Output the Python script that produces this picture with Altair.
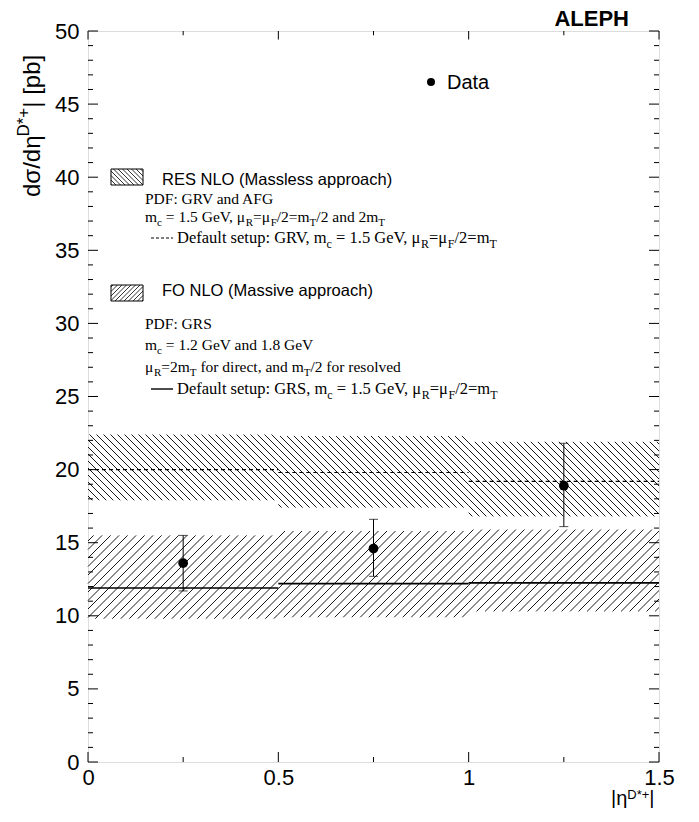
import altair as alt
import numpy as np
import pandas as pd

# ---------------- data ----------------
bin_lo = [0.0, 0.5, 1.0]
bin_hi = [0.5, 1.0, 1.5]
res_lo = [17.9, 17.4, 16.8]
res_hi = [22.4, 22.3, 21.9]
res_def = [20.0, 19.8, 19.2]
fo_lo = [9.8, 9.9, 10.3]
fo_hi = [15.5, 15.8, 15.9]
fo_def = [11.9, 12.2, 12.25]
data_x = [0.25, 0.75, 1.25]
data_y = [13.6, 14.6, 18.9]
data_lo = [11.7, 12.7, 16.1]
data_hi = [15.5, 16.6, 21.8]
x_labels = [0, 0.5, 1, 1.5]
x_minor = [0.25, 0.75, 1.25]
y_labels = [0, 5, 10, 15, 20, 25, 30, 35, 40, 45, 50]
y_minor = [v for v in range(1, 50) if v % 5]

# ---------------- geometry ----------------
W, H = 571, 731
PADL, PADT = 80, 23
OX, OY = 8 + PADL, 8 + PADT          # page position of the plot origin
XD, YD = [0, 1.5], [0, 50]
SX, SY = W / (XD[1] - XD[0]), H / (YD[1] - YD[0])
SANS = "Liberation Sans"
SERIF = "Liberation Serif"


def X(field, axis=None):
    return alt.X(field, type="quantitative", scale=alt.Scale(domain=XD, nice=False, zero=False), axis=axis)


def Y(field, axis=None):
    return alt.Y(field, type="quantitative", scale=alt.Scale(domain=YD, nice=False, zero=False), axis=axis)


def hatch(x0, x1, y0, y1, d, slash, sx, sy):
    """hatch segments for a rectangle, in data units (y up)."""
    u0, u1, w0, w1 = x0 * sx, x1 * sx, y0 * sy, y1 * sy
    segs = []
    if slash:  # w = u + c
        for k in range(int(np.ceil((w0 - u1) / d)), int(np.floor((w1 - u0) / d)) + 1):
            c = k * d
            lo, hi = max(u0, w0 - c), min(u1, w1 - c)
            if hi - lo > 0.4:
                segs.append((lo / sx, (lo + c) / sy, hi / sx, (hi + c) / sy))
    else:  # w = -u + c
        for k in range(int(np.ceil((w0 + u0) / d)), int(np.floor((w1 + u1) / d)) + 1):
            c = k * d
            lo, hi = max(u0, c - w1), min(u1, c - w0)
            if hi - lo > 0.4:
                segs.append((lo / sx, (c - lo) / sy, hi / sx, (c - hi) / sy))
    return segs


band_segs = []
for i in range(3):
    band_segs += hatch(bin_lo[i], bin_hi[i], res_lo[i], res_hi[i], 7.0, False, SX, SY)
    band_segs += hatch(bin_lo[i], bin_hi[i], fo_lo[i], fo_hi[i], 8.5, True, SX, SY)
hatch_df = pd.DataFrame(band_segs, columns=["x", "y", "x2", "y2"])

hatch_layer = alt.Chart(hatch_df).mark_rule(color="black", strokeWidth=0.9).encode(
    x=X("x"), y=Y("y"), x2="x2", y2="y2")

bins_df = pd.DataFrame({"lo": bin_lo, "hi": bin_hi, "res": res_def, "fo": fo_def})
res_line = alt.Chart(bins_df).mark_rule(color="black", strokeWidth=1.2, strokeDash=[4, 3]).encode(
    x=X("lo"), x2="hi", y=Y("res"))
fo_line = alt.Chart(bins_df).mark_rule(color="black", strokeWidth=1.6).encode(
    x=X("lo"), x2="hi", y=Y("fo"))

pts_df = pd.DataFrame({"x": data_x, "y": data_y, "lo": data_lo, "hi": data_hi})
err = alt.Chart(pts_df).mark_rule(color="black", strokeWidth=1).encode(x=X("x"), y=Y("lo"), y2="hi")
cap_lo = alt.Chart(pts_df).mark_tick(color="black", orient="horizontal", size=9, thickness=1).encode(
    x=X("x"), y=Y("lo"))
cap_hi = alt.Chart(pts_df).mark_tick(color="black", orient="horizontal", size=9, thickness=1).encode(
    x=X("x"), y=Y("hi"))
pts = alt.Chart(pts_df).mark_circle(color="black", size=95, opacity=1).encode(x=X("x"), y=Y("y"))

# ---------------- axes & inside ticks ----------------
yt = pd.DataFrame({"v": y_labels + y_minor, "L": [10] * len(y_labels) + [5] * len(y_minor)})
xt = pd.DataFrame({"v": x_labels + x_minor, "L": [10] * len(x_labels) + [5] * len(x_minor)})

ax_y = alt.Axis(values=y_labels, ticks=False, domain=False, grid=False, labelFontSize=22, labelFont=SANS,
                labelColor="black", labelPadding=9, labelFlush=False, labelOverlap=False, title=None, format="~g")
ax_x = alt.Axis(values=x_labels, ticks=False, domain=False, grid=False, labelFontSize=22, labelFont=SANS,
                labelColor="black", labelPadding=5, labelFlush=False, labelOverlap=False, title=None, format="~g")

yt_left = alt.Chart(yt).transform_calculate(x0="0", x1="datum.L / %f" % SX).mark_rule(
    color="black", strokeWidth=1).encode(y=Y("v", ax_y), x=X("x0:Q"), x2="x1:Q")
yt_right = alt.Chart(yt).transform_calculate(x0="1.5", x1="1.5 - datum.L / %f" % SX).mark_rule(
    color="black", strokeWidth=1).encode(y=Y("v"), x=X("x0:Q"), x2="x1:Q")
xt_bot = alt.Chart(xt).transform_calculate(y0="0", y1="datum.L / %f" % SY).mark_rule(
    color="black", strokeWidth=1).encode(x=X("v", ax_x), y=Y("y0:Q"), y2="y1:Q")
xt_top = alt.Chart(xt).transform_calculate(y0="50", y1="50 - datum.L * 0.85 / %f" % SY).mark_rule(
    color="black", strokeWidth=1).encode(x=X("v"), y=Y("y0:Q"), y2="y1:Q")

# ---------------- text helpers ----------------
TIMES = {" ": 250, ",": 250, ".": 250, ":": 278, "/": 278, "=": 564, "-": 333, "(": 333, ")": 333,
         "A": 722, "D": 722, "F": 556, "G": 722, "P": 556, "R": 667, "S": 556, "T": 611, "V": 722,
         "a": 444, "c": 444, "d": 500, "e": 444, "f": 333, "i": 278, "l": 278, "m": 778, "n": 500,
         "o": 500, "p": 500, "r": 333, "s": 389, "t": 278, "u": 500, "v": 500, "μ": 576}
ARIAL = {" ": 278, "(": 333, ")": 333, "*": 389, "+": 584, "/": 278, "|": 260, "[": 278, "]": 278,
         "A": 667, "D": 722, "E": 667, "F": 611, "H": 722, "L": 556, "M": 833, "N": 722, "O": 778,
         "P": 667, "R": 722, "S": 667, "a": 556, "b": 556, "c": 500, "d": 556, "e": 556, "h": 556,
         "i": 222, "l": 222, "o": 556, "p": 556, "r": 333, "s": 500, "t": 278, "v": 500, "σ": 571, "η": 556}
ARIALB = {"A": 722, "L": 611, "E": 667, "P": 667, "H": 722}
KERN = {"V,": -129, "RV": -80}


def width(s, size, table):
    w = sum(table.get(ch, 500) for ch in s)
    if table is TIMES:
        w += sum(KERN.get(s[i:i + 2], 0) for i in range(len(s) - 1))
    return w / 1000.0 * size


def compose(pieces, x, y, size, table, angle=0, sub=0.72, sup_shift=0.45):
    """pieces placed from a page position (x, y = baseline), returned in plot-area pixels.
    SVG drops leading/trailing blanks, so they are turned into advances."""
    x, y = x - OX, y - OY
    rows, pos = [], 0.0
    for txt, kind in pieces:
        s = size if kind == "n" else round(size * sub)
        shift = 0 if kind == "n" else (0.28 * size if kind == "sub" else -sup_shift * size)
        core = txt.strip(" ")
        lead = len(txt) - len(txt.lstrip(" "))
        trail = len(txt) - len(txt.rstrip(" "))
        pos += width(" " * lead, s, table)
        if angle == 0:
            rows.append(dict(px=x + pos, py=y + shift, t=core, s=s, a=0))
        else:
            rows.append(dict(px=x + shift, py=y - pos, t=core, s=s, a=270))
        pos += width(core, s, table) + width(" " * trail, s, table)
    return rows


def text_layer(rows, font, weight="normal"):
    return alt.Chart(pd.DataFrame(rows)).mark_text(
        font=font, fontWeight=weight, align="left", baseline="alphabetic", color="black").encode(
        x=alt.X("px:Q", scale=None, axis=None), y=alt.Y("py:Q", scale=None, axis=None),
        text="t:N", size=alt.Size("s:Q", scale=None, legend=None), angle=alt.Angle("a:Q", scale=None))


n, sb, sp = "n", "sub", "sup"
FT, FD = 15.5, 16.5
serif_rows = []
serif_rows += compose([("PDF: GRV and AFG", n)], 145, 204, FT, TIMES)
serif_rows += compose([("m", n), ("c", sb), (" = 1.5 GeV, ", n), ("μ", n), ("R", sb), ("=", n), ("μ", n),
                       ("F", sb), ("/2=m", n), ("T", sb), ("/2 and 2m", n), ("T", sb)], 145, 222, FT, TIMES)
serif_rows += compose([("Default setup: GRV, m", n), ("c", sb), (" = 1.5 GeV, ", n), ("μ", n), ("R", sb),
                       ("=", n), ("μ", n), ("F", sb), ("/2=m", n), ("T", sb)], 177, 243, FD, TIMES)
serif_rows += compose([("PDF: GRS", n)], 145, 329, FT, TIMES)
serif_rows += compose([("m", n), ("c", sb), (" = 1.2 GeV and 1.8 GeV", n)], 145, 350, FT, TIMES)
serif_rows += compose([("μ", n), ("R", sb), ("=2m", n), ("T", sb), (" for direct, and m", n), ("T", sb),
                       ("/2 for resolved", n)], 145, 372, FT, TIMES)
serif_rows += compose([("Default setup: GRS, m", n), ("c", sb), (" = 1.5 GeV, ", n), ("μ", n), ("R", sb),
                       ("=", n), ("μ", n), ("F", sb), ("/2=m", n), ("T", sb)], 177, 394, FD, TIMES)

sans_rows = []
sans_rows += compose([("RES NLO (Massless approach)", n)], 162, 185, 16.5, ARIAL)
sans_rows += compose([("FO NLO (Massive approach)", n)], 162, 296, 16.5, ARIAL)
sans_rows += compose([("Data", n)], 447, 89, 20, ARIAL)
sans_rows += compose([("dσ/dη", n), ("D*+", sp), ("| [pb]", n)], 40, 197, 24, ARIAL, angle=270, sub=0.7)
sans_rows += compose([("|η", n), ("D*+", sp), ("|", n)], 611, 805, 20, ARIAL, sub=0.66, sup_shift=0.28)

bold_rows = compose([("ALEPH", n)], 629 - width("ALEPH", 22, ARIALB), 26, 22, ARIALB)


def P(col):
    return alt.X(col, type="quantitative", scale=None, axis=None)


def Q(col):
    return alt.Y(col, type="quantitative", scale=None, axis=None)


# legend samples (page pixels converted to plot-area pixels)
boxes = [(111, 143, 169, 185, False), (111, 143, 285, 301, True)]
leg_boxes = pd.DataFrame({"x": [b[0] - OX for b in boxes], "x2": [b[1] - OX for b in boxes],
                          "y": [b[2] - OY for b in boxes], "y2": [b[3] - OY for b in boxes]})
box_layer = alt.Chart(leg_boxes).mark_rect(fill=None, stroke="black", strokeWidth=1).encode(
    x=P("x"), x2="x2:Q", y=Q("y"), y2="y2:Q")
leg_h = []
for bx0, bx1, by0, by1, sl in boxes:
    for a, b, c, d in hatch(bx0 - OX, bx1 - OX, -(by1 - OY), -(by0 - OY), 4.5, sl, 1.0, 1.0):
        leg_h.append((a, -b, c, -d))
leg_h_df = pd.DataFrame(leg_h, columns=["x", "y", "x2", "y2"])
leg_hatch = alt.Chart(leg_h_df).mark_rule(color="black", strokeWidth=0.8).encode(
    x=P("x"), y=Q("y"), x2="x2:Q", y2="y2:Q")

dash_sample = alt.Chart(pd.DataFrame({"x": [151 - OX], "x2": [173 - OX], "y": [238 - OY]})).mark_rule(
    color="black", strokeWidth=1.1, strokeDash=[3, 2]).encode(x=P("x"), x2="x2:Q", y=Q("y"))
solid_sample = alt.Chart(pd.DataFrame({"x": [151 - OX], "x2": [173 - OX], "y": [389 - OY]})).mark_rule(
    color="black", strokeWidth=1.4).encode(x=P("x"), x2="x2:Q", y=Q("y"))
data_marker = alt.Chart(pd.DataFrame({"x": [431 - OX], "y": [82 - OY]})).mark_circle(
    color="black", size=64, opacity=1).encode(x=P("x"), y=Q("y"))

chart = alt.layer(
    hatch_layer, res_line, fo_line, err, cap_lo, cap_hi, pts,
    yt_left, yt_right, xt_bot, xt_top,
    box_layer, leg_hatch, dash_sample, solid_sample, data_marker,
    text_layer(serif_rows, SERIF), text_layer(sans_rows, SANS), text_layer(bold_rows, SANS, "bold"),
).resolve_scale(x="independent", y="independent").properties(
    width=W, height=H,
    autosize=alt.AutoSizeParams(type="none"),
    padding={"left": PADL, "top": PADT, "right": 32, "bottom": 46},
).configure_view(stroke="black", strokeWidth=2).configure(background="white")

chart.save("out.html", embed_options={"renderer": "svg", "actions": False})
